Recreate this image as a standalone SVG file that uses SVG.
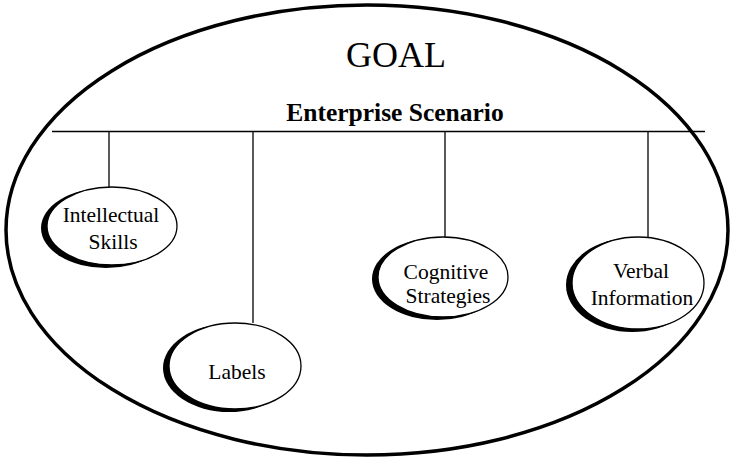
<svg xmlns="http://www.w3.org/2000/svg" width="733" height="460" viewBox="0 0 733 460">
  <style>
    .frame { fill: #fff; stroke: #000; stroke-width: 3.5; }
    .link { stroke: #000; stroke-width: 1.3; fill: none; }
    .shade { fill: #000; }
    .bubble { fill: #fff; stroke: #000; stroke-width: 1.3; }
    .label { font-family: "Liberation Serif", "Times New Roman", serif; font-size: 21.5px; fill: #000; text-anchor: middle; }
    .title { font-family: "Liberation Serif", "Times New Roman", serif; font-size: 36px; fill: #000; text-anchor: middle; }
    .sub { font-family: "Liberation Serif", "Times New Roman", serif; font-size: 25.5px; font-weight: bold; fill: #000; text-anchor: middle; }
  </style>
  <rect width="733" height="460" fill="#fff"/>

  <!-- outer goal boundary -->
  <g id="goal">
    <ellipse class="frame" cx="367" cy="230" rx="361" ry="225"/>
    <text class="title" x="396" y="67">GOAL</text>
    <text class="sub" x="395" y="121">Enterprise Scenario</text>
  </g>

  <!-- bar and drop lines -->
  <g id="connectors">
    <line class="link" x1="52" y1="131.5" x2="705" y2="131.5"/>
    <line class="link" x1="109" y1="131" x2="109" y2="187"/>
    <line class="link" x1="253" y1="131" x2="253" y2="323"/>
    <line class="link" x1="445" y1="131" x2="445" y2="237"/>
    <line class="link" x1="648" y1="131" x2="648" y2="237"/>
  </g>

  <g id="intellectual-skills">
    <ellipse class="shade" cx="106" cy="228" rx="65" ry="40"/>
    <ellipse class="bubble" cx="112" cy="226" rx="65" ry="39"/>
    <text class="label" x="111" y="222">Intellectual</text>
    <text class="label" x="113" y="249">Skills</text>
  </g>

  <g id="labels">
    <ellipse class="shade" cx="229" cy="368" rx="66" ry="44"/>
    <ellipse class="bubble" cx="235" cy="366" rx="66" ry="43"/>
    <text class="label" x="237" y="379">Labels</text>
  </g>

  <g id="cognitive-strategies">
    <ellipse class="shade" cx="437" cy="279" rx="65" ry="41"/>
    <ellipse class="bubble" cx="443" cy="277" rx="65" ry="40"/>
    <text class="label" x="446" y="279">Cognitive</text>
    <text class="label" x="448" y="303">Strategies</text>
  </g>

  <g id="verbal-information">
    <ellipse class="shade" cx="632" cy="285" rx="66" ry="47"/>
    <ellipse class="bubble" cx="638" cy="283" rx="66" ry="46"/>
    <text class="label" x="641" y="278">Verbal</text>
    <text class="label" x="642" y="305">Information</text>
  </g>
</svg>
